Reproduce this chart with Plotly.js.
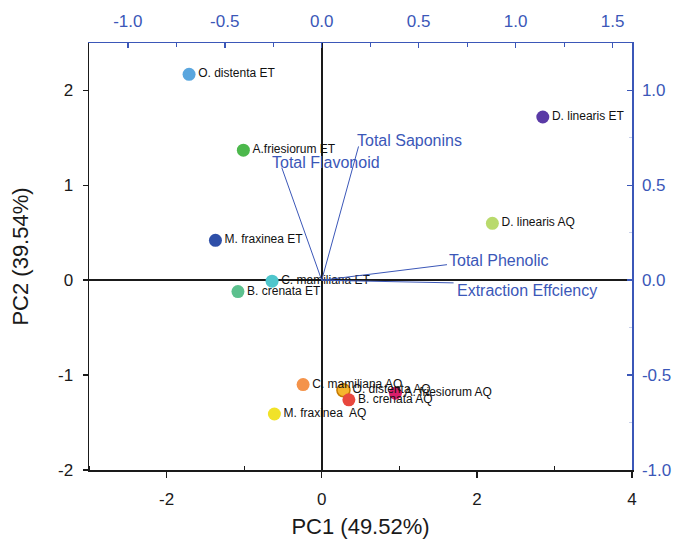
<!DOCTYPE html>
<html>
<head>
<meta charset="utf-8">
<script src="https://cdn.plot.ly/plotly-3.0.1.min.js"></script>
<style>html,body{margin:0;padding:0;background:#fff;}#chart{width:674px;height:539px;}</style>
</head>
<body>
<div id="chart"></div>
<script>
// Sample scores (PC1 / PC2)
var sampleNames = ["O. distenta ET","A.friesiorum ET","M. fraxinea ET","C. mamiliana ET","B. crenata ET",
  "D. linearis ET","D. linearis AQ","C. mamiliana AQ","O. distenta AQ","B. crenata AQ","A. friesiorum AQ","M. fraxinea  AQ"];
var pc1Scores = [-1.71, -1.01, -1.37, -0.64, -1.08, 2.85, 2.20, -0.24, 0.28, 0.35, 0.95, -0.61];
var pc2Scores = [2.17, 1.37, 0.42, -0.01, -0.12, 1.72, 0.60, -1.10, -1.16, -1.26, -1.19, -1.41];
var sampleColors = ["#5aa6de","#4cb84c","#2e4fa8","#4fc6cc","#5cc08e","#5a3aa6","#b9da6c",
  "#f4934a","#f5b52e","#e8473d","#d91e6c","#f1e228"];

// Variable loadings (top / right axes)
var varNames = ["Total Flavonoid","Total Saponins","Total Phenolic","Extraction Effciency"];
var load1 = [-0.206, 0.19, 0.646, 0.68];
var load2 = [0.593, 0.705, 0.082, -0.014];

// Tick labels
var pc1Ticks = [-2, 0, 2, 4];
var pc1TickText = ["-2", "0", "2", "4"];
var pc2Ticks = [-2, -1, 0, 1, 2];
var pc2TickText = ["-2", "-1", "0", "1", "2"];
var topTicks = [-1.0, -0.5, 0.0, 0.5, 1.0, 1.5];
var topTickText = ["-1.0", "-0.5", "0.0", "0.5", "1.0", "1.5"];
var rightTicks = [-1.0, -0.5, 0.0, 0.5, 1.0];
var rightTickText = ["-1.0", "-0.5", "0.0", "0.5", "1.0"];

var blue = "#3b57b8";
var black = "#1a1a1a";
var font = "Liberation Sans, Arial, sans-serif";

var lx = [], ly = [];
for (var i = 0; i < varNames.length; i++) { lx.push(0, load1[i], null); ly.push(0, load2[i], null); }

var traces = [
  {type: "scatter", mode: "lines", x: lx, y: ly, xaxis: "x2", yaxis: "y2",
   line: {color: blue, width: 1}, hoverinfo: "skip", showlegend: false},
  {type: "scatter", mode: "markers+text", x: pc1Scores, y: pc2Scores, text: sampleNames,
   textposition: "middle right", textfont: {family: font, size: 12, color: "#111"},
   marker: {size: 13, color: sampleColors,
     line: {width: sampleNames.map(function(n){return n === "O. distenta AQ" ? 1.5 : 0;}), color: "#c77a00"}},
   showlegend: false, cliponaxis: false}
];

// label offsets (style only)
var labelStyle = [
  {xanchor: "center", xshift: 44, yshift: 5},
  {xanchor: "left", xshift: -4, yshift: 6},
  {xanchor: "left", xshift: 0, yshift: 4},
  {xanchor: "left", xshift: 1, yshift: -8}
];
var annotations = varNames.map(function(n, i){
  return {text: n, x: load1[i], y: load2[i], xref: "x2", yref: "y2", showarrow: false,
    xanchor: labelStyle[i].xanchor, yanchor: "middle", xshift: labelStyle[i].xshift, yshift: labelStyle[i].yshift,
    font: {family: font, size: 16, color: blue}};
});

var layout = {
  width: 674, height: 539,
  margin: {l: 89, r: 42, t: 43, b: 69},
  paper_bgcolor: "#fff", plot_bgcolor: "#fff",
  showlegend: false,
  font: {family: font, color: black},
  xaxis: {range: [-3, 4], tickmode: "array", tickvals: pc1Ticks, ticktext: pc1TickText, showgrid: false,
    showline: true, linecolor: black, linewidth: 1.5,
    ticks: "outside", ticklen: 6, tickwidth: 1.5, tickcolor: black, ticklabelstandoff: 7,
    minor: {tickmode: "linear", tick0: 1, dtick: 2, ticks: "inside", ticklen: 4, tickwidth: 1.2, tickcolor: black, showgrid: false},
    zeroline: true, zerolinecolor: black, zerolinewidth: 2,
    tickfont: {family: font, size: 17, color: black},
    title: {text: "PC1 (49.52%)", font: {family: font, size: 22, color: black}, standoff: 10}},
  yaxis: {range: [-2, 2.5], tickmode: "array", tickvals: pc2Ticks, ticktext: pc2TickText, showgrid: false,
    showline: true, linecolor: black, linewidth: 1.5,
    ticks: "outside", ticklen: 5, tickwidth: 1.5, tickcolor: black, ticklabelstandoff: 6,
    zeroline: true, zerolinecolor: black, zerolinewidth: 2,
    tickfont: {family: font, size: 17, color: black},
    title: {text: "PC2 (39.54%)", font: {family: font, size: 22, color: black}, standoff: 23}},
  xaxis2: {overlaying: "x", side: "top", anchor: "y", range: [-1.2, 1.6], tickmode: "array", tickvals: topTicks, ticktext: topTickText,
    showgrid: false, zeroline: false, showline: true, linecolor: blue, linewidth: 1.5,
    ticks: "inside", ticklen: 5, tickwidth: 1.5, tickcolor: blue, ticklabelstandoff: 8,
    minor: {tickmode: "linear", tick0: 0.25, dtick: 0.5, ticks: "inside", ticklen: 4, tickwidth: 1.2, tickcolor: blue, showgrid: false},
    tickfont: {family: font, size: 17, color: blue}},
  yaxis2: {overlaying: "y", side: "right", anchor: "x", range: [-1, 1.25], tickmode: "array", tickvals: rightTicks, ticktext: rightTickText,
    showgrid: false, zeroline: false, showline: true, linecolor: blue, linewidth: 1.5,
    ticks: "inside", ticklen: 5, tickwidth: 1.5, tickcolor: blue, ticklabelstandoff: 5,
    minor: {tickmode: "linear", tick0: 0.25, dtick: 0.5, ticks: "inside", ticklen: 3, tickwidth: 1, tickcolor: "#c8d0ea", showgrid: false},
    tickfont: {family: font, size: 17, color: blue}},
  annotations: annotations
};

Plotly.newPlot("chart", traces, layout, {displayModeBar: false, staticPlot: true});
</script>
</body>
</html>
